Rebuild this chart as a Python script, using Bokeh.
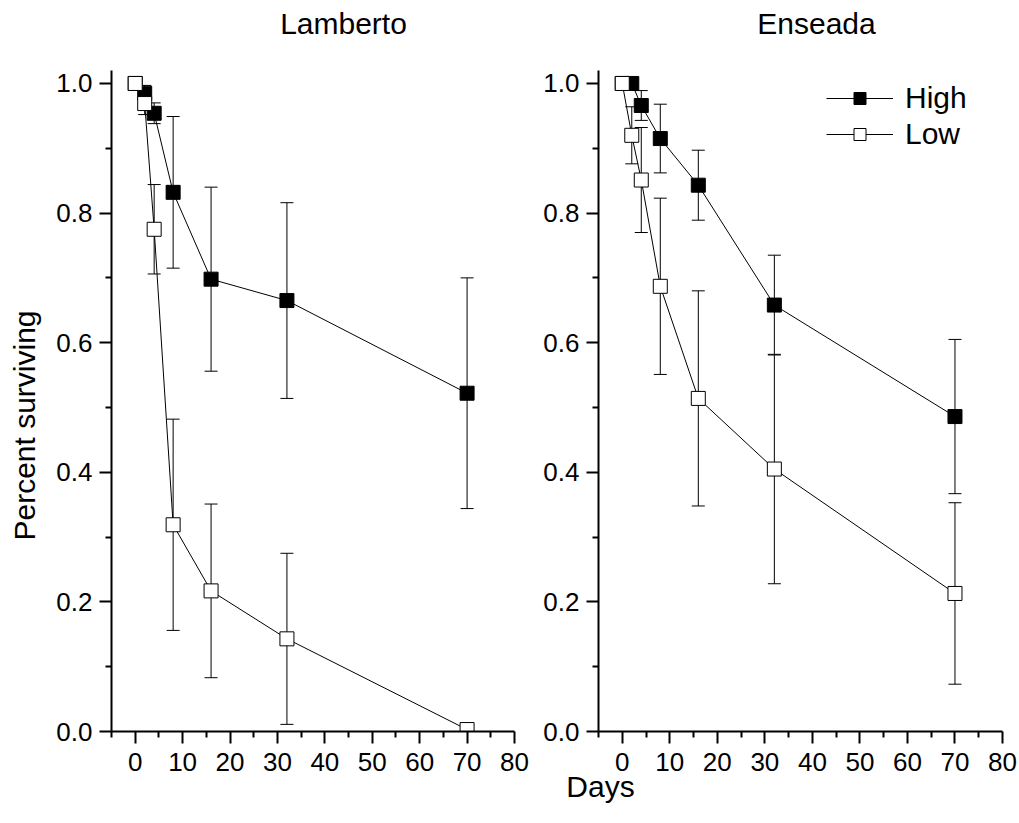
import math
from bokeh.plotting import figure
from bokeh.models import (ColumnDataSource, Whisker, TeeHead, FixedTicker, PrintfTickFormatter,
                          Range1d, Label, Legend, LegendItem)
from bokeh.layouts import row, column
from bokeh.embed import file_html
from bokeh.resources import INLINE

# ---------------- data ----------------
days = [0, 2, 4, 8, 16, 32, 70]

lamberto_high = [1.0, 0.985, 0.954, 0.832, 0.698, 0.665, 0.522]
lamberto_high_err = [0.0, 0.012, 0.016, 0.117, 0.142, 0.151, 0.178]
lamberto_low = [1.0, 0.969, 0.775, 0.319, 0.217, 0.143, 0.003]
lamberto_low_err = [0.0, 0.017, 0.069, 0.163, 0.134, 0.132, 0.004]

enseada_high = [1.0, 1.0, 0.966, 0.915, 0.843, 0.658, 0.486]
enseada_high_err = [0.0, 0.0, 0.023, 0.053, 0.054, 0.077, 0.119]
enseada_low = [1.0, 0.92, 0.851, 0.687, 0.514, 0.405, 0.213]
enseada_low_err = [0.0, 0.044, 0.081, 0.136, 0.166, 0.177, 0.14]

x_major = [0, 10, 20, 30, 40, 50, 60, 70, 80]
x_minor = [-5, 5, 15, 25, 35, 45, 55, 65, 75]
y_major = [0.0, 0.2, 0.4, 0.6, 0.8, 1.0]
y_minor = [0.1, 0.3, 0.5, 0.7, 0.9]

FONT = "Liberation Sans"
TICK_SIZE = "26px"
TEXT_SIZE = "30px"

TOP_H = 44
MID_H = 746
BOT_H = 50
BOT_OVERLAP = 25
LEFT_W = 48
SHIFT = 11  # baseline correction for Label text


def make_panel(width, border_left, border_right):
    p = figure(width=width, height=MID_H, output_backend="svg", toolbar_location=None,
               x_range=Range1d(-5, 80), y_range=Range1d(0, 1.02),
               min_border_left=border_left, min_border_right=border_right,
               min_border_top=70 - TOP_H, min_border_bottom=TOP_H + MID_H - 731, title=None)
    p.grid.visible = False
    p.outline_line_color = None
    p.background_fill_color = "white"
    p.border_fill_color = "white"
    p.xaxis.ticker = FixedTicker(ticks=x_major, minor_ticks=x_minor)
    p.yaxis.ticker = FixedTicker(ticks=y_major, minor_ticks=y_minor)
    p.yaxis.formatter = PrintfTickFormatter(format="%.1f")
    for ax in (p.xaxis[0], p.yaxis[0]):
        ax.axis_line_width = 2
        ax.axis_line_color = "black"
        ax.major_tick_line_width = 2
        ax.minor_tick_line_width = 2
        ax.major_tick_line_color = "black"
        ax.minor_tick_line_color = "black"
        ax.major_tick_out = 12
        ax.major_tick_in = 0
        ax.minor_tick_out = 6
        ax.minor_tick_in = 0
        ax.major_label_text_font = FONT
        ax.major_label_text_font_size = TICK_SIZE
        ax.major_label_text_color = "black"
    p.xaxis.major_label_standoff = 9
    p.yaxis.major_label_standoff = 7
    return p


def text_strip(width, height, **kw):
    s = figure(width=width, height=height, output_backend="svg", toolbar_location=None,
               x_range=Range1d(0, 1), y_range=Range1d(0, 1),
               x_axis_location=None, y_axis_location=None, min_border=0, title=None, **kw)
    s.grid.visible = False
    s.outline_line_color = None
    s.background_fill_alpha = 0
    s.border_fill_alpha = 0
    return s


def text_label(p, x, y, text, angle=0.0):
    p.add_layout(Label(x=x, y=y, x_units="screen", y_units="screen", text=text, angle=angle,
                       text_font=FONT, text_font_size=TEXT_SIZE, text_align="center",
                       text_baseline="alphabetic", text_color="black"))


def add_series(p, y, err, fill):
    src = ColumnDataSource(dict(
        x=days, y=y,
        lower=[a - b for a, b in zip(y, err)],
        upper=[a + b for a, b in zip(y, err)],
    ))
    ln = p.line("x", "y", source=src, line_color="black", line_width=1)
    wh = Whisker(base="x", lower="lower", upper="upper", source=src,
                 line_color="black", line_width=1,
                 upper_head=TeeHead(size=13, line_color="black", line_width=1),
                 lower_head=TeeHead(size=13, line_color="black", line_width=1))
    p.add_layout(wh)
    sc = p.scatter("x", "y", source=src, marker="square", size=14,
                   fill_color=fill, line_color="black", line_width=1)
    return ln, sc


# ---------------- top strip (panel titles) ----------------
top = text_strip(1017, TOP_H)
text_label(top, 343, TOP_H - 34 + SHIFT, "Lamberto")
text_label(top, 816, TOP_H - 34 + SHIFT, "Enseada")

# ---------------- left strip (y label) ----------------
left = text_strip(LEFT_W, MID_H)
text_label(left, 35 - SHIFT, 306, "Percent surviving", angle=math.pi / 2)

# ---------------- left panel ----------------
p1 = make_panel(540 - LEFT_W, 111 - LEFT_W, 26)
add_series(p1, lamberto_high, lamberto_high_err, "black")
add_series(p1, lamberto_low, lamberto_low_err, "white")

# ---------------- right panel ----------------
p2 = make_panel(477, 58, 15)
lh, sh = add_series(p2, enseada_high, enseada_high_err, "black")
ll, sl = add_series(p2, enseada_low, enseada_low_err, "white")

legend = Legend(items=[LegendItem(label="High", renderers=[lh, sh]),
                       LegendItem(label="Low", renderers=[ll, sl])],
                location=(228, 580), label_text_font=FONT, label_text_font_size=TEXT_SIZE,
                label_text_color="black",
                glyph_width=67, glyph_height=30, label_standoff=12, spacing=2,
                padding=0, margin=0, border_line_color=None, background_fill_alpha=0)
p2.add_layout(legend)

# ---------------- bottom strip (x label), overlapping the row above ----------------
bottom = text_strip(1017, BOT_H, margin=(-BOT_OVERLAP, 0, 0, 0))
bottom_top = TOP_H + MID_H - BOT_OVERLAP
text_label(bottom, 600, (bottom_top + BOT_H) - 797 + SHIFT, "Days")

layout = column(top, row(left, p1, p2), bottom)
open("out.html", "w").write(file_html(layout, INLINE))
